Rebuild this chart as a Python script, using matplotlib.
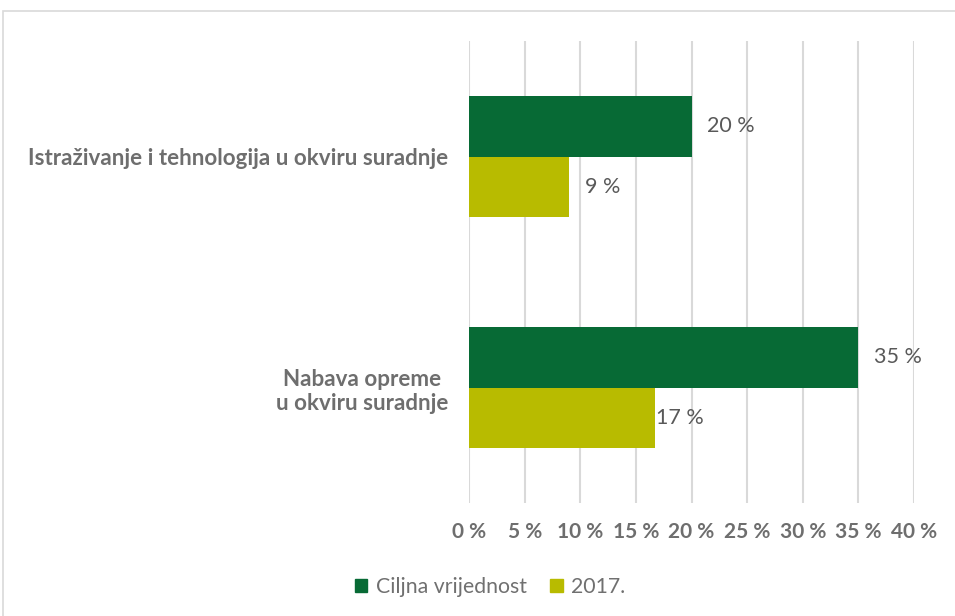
import matplotlib
matplotlib.use("Agg")
import matplotlib.pyplot as plt
from matplotlib.patches import Patch, Rectangle
import numpy as np

categories = ["Istraživanje i tehnologija u okviru suradnje", "Nabava opreme\nu okviru suradnje"]
series_names = ["Ciljna vrijednost", "2017."]
target = [20, 35]
actual_2017 = [9, 16.7]
xticks = [0, 5, 10, 15, 20, 25, 30, 35, 40]

GREEN = "#076a35"
OLIVE = "#b8bb00"
TICK_GREY = "#6e6e6e"
LABEL_GREY = "#595959"

plt.rcParams["font.family"] = ["Lato", "DejaVu Sans"]

fig = plt.figure(figsize=(9.55, 6.16), dpi=100)
ax = fig.add_axes([469 / 955, 1 - 503 / 616, (914 - 469) / 955, (503 - 41) / 616])

# light frame around the chart area
fig.patches.append(Rectangle((3 / 955, -0.1), 1.2, 1 - 11 / 616 + 0.1, transform=fig.transFigure,
                             fill=False, edgecolor="#d9d9d9", linewidth=1.2))

y = np.arange(len(categories))
h = 0.26
ax.barh(y - h / 2, target, height=h, color=GREEN, zorder=3)
ax.barh(y + h / 2, actual_2017, height=h, color=OLIVE, zorder=3)

for yi, v in zip(y - h / 2, target):
    ax.text(v + 1.4, yi, f"{v:.0f} %", va="center", ha="left", fontsize=15.5, color=LABEL_GREY)
for yi, v in zip(y + h / 2, actual_2017):
    ax.text(v + 1.4 if v < 12 else v + 0.1, yi, f"{v:.0f} %", va="center", ha="left",
            fontsize=15.5, color=LABEL_GREY)

ax.set_xlim(0, 40)
ax.set_ylim(1.5, -0.5)
ax.set_xticks(xticks)
ax.set_xticklabels([f"{t} %" for t in xticks], fontsize=15, fontweight="bold", color=TICK_GREY)
ax.set_yticks(y)
ax.set_yticklabels(categories, fontsize=16.1, fontweight="bold", color=TICK_GREY,
                   multialignment="center")
ax.tick_params(axis="both", length=0)
ax.tick_params(axis="x", pad=14)
ax.tick_params(axis="y", pad=15)
ax.grid(axis="x", color="#d9d9d9", linewidth=1.5, zorder=0)
for s in ax.spines.values():
    s.set_visible(False)

handles = [Patch(color=GREEN), Patch(color=OLIVE)]
fig.legend(handles, series_names, loc="center", bbox_to_anchor=(490 / 955, 1 - 587 / 616),
           ncol=2, frameon=False, fontsize=15.3, labelcolor="#707070",
           handlelength=0.6, handleheight=0.6, handletextpad=0.4, columnspacing=1.1)

fig.savefig("out.png", dpi=100)
